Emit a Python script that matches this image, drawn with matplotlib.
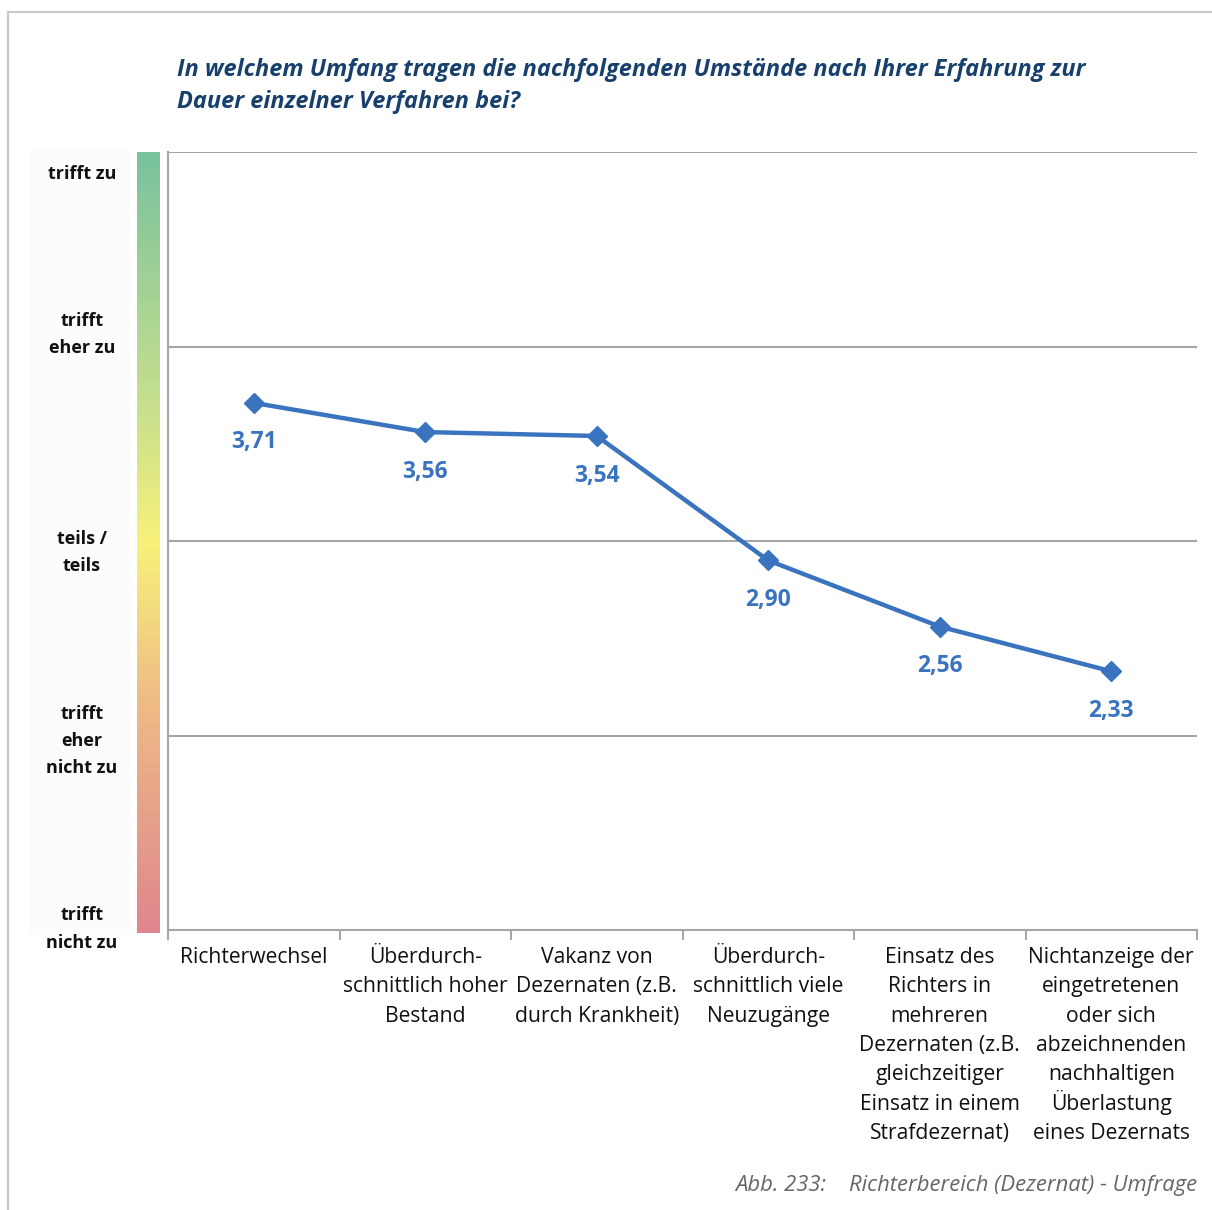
import matplotlib
matplotlib.use("Agg")
import matplotlib.pyplot as plt
import numpy as np
from matplotlib.colors import LinearSegmentedColormap
from matplotlib.lines import Line2D

categories = [
    "Richterwechsel",
    "Überdurch-\nschnittlich hoher\nBestand",
    "Vakanz von\nDezernaten (z.B.\ndurch Krankheit)",
    "Überdurch-\nschnittlich viele\nNeuzugänge",
    "Einsatz des\nRichters in\nmehreren\nDezernaten (z.B.\ngleichzeitiger\nEinsatz in einem\nStrafdezernat)",
    "Nichtanzeige der\neingetretenen\noder sich\nabzeichnenden\nnachhaltigen\nÜberlastung\neines Dezernats",
]
values = [3.71, 3.56, 3.54, 2.90, 2.56, 2.33]
scale_labels = ["trifft zu", "trifft\neher zu", "teils /\nteils", "trifft\neher\nnicht zu", "trifft\nnicht zu"]
scale_label_pos = [4.885, 4.06, 2.94, 1.97, 1.005]

title = ("In welchem Umfang tragen die nachfolgenden Umstände nach Ihrer Erfahrung zur\n"
         "Dauer einzelner Verfahren bei?")
caption = "Abb. 233:    Richterbereich (Dezernat) - Umfrage"

FONT = ["Open Sans", "DejaVu Sans"]
plt.rcParams["font.family"] = FONT

W, H = 1212, 1210
fig = plt.figure(figsize=(W / 100, H / 100), dpi=100)

def fx(px):
    return px / W

def fy(py):
    return 1 - py / H

# outer frame lines
fig.add_artist(Line2D([fx(8), fx(1212)], [fy(12), fy(12)], color="#C8C8C8", lw=1.5))
fig.add_artist(Line2D([fx(8), fx(8)], [fy(12), fy(1210)], color="#C8C8C8", lw=1.5))

ax = fig.add_axes([fx(168), fy(930), fx(1197) - fx(168), fy(152) - fy(930)])
x = np.arange(len(values))
line_color = "#3A74BF"
ax.plot(x, values, color=line_color, lw=3.2, marker="D", ms=10, mec=line_color, mfc=line_color, zorder=3)
for xi, v in zip(x, values):
    ax.annotate(f"{v:.2f}".replace(".", ","), (xi, v), xytext=(0, -28.5), textcoords="offset points",
                ha="center", va="center", color=line_color, fontsize=16.5, fontweight="bold")

ax.set_xlim(-0.5, len(values) - 0.5)
ax.set_ylim(1, 5)
ax.set_yticks([1, 2, 3, 4, 5])
ax.set_yticklabels([])
ax.tick_params(axis="y", length=0)
ax.yaxis.grid(True, color="#A6A6A6", lw=1.5)
ax.set_axisbelow(True)
for s in ["top", "right"]:
    ax.spines[s].set_visible(False)
for s in ["left", "bottom"]:
    ax.spines[s].set_color("#A6A6A6")
    ax.spines[s].set_linewidth(1.5)

# category labels: each line placed at fixed spacing below the axis
ax.set_xticks(x)
ax.set_xticklabels([])
ax.tick_params(axis="x", which="major", length=0)
ax.set_xticks(np.arange(-0.5, len(values), 1.0), minor=True)
ax.tick_params(axis="x", which="minor", length=7, width=1.5, color="#A6A6A6", direction="out")
xtrans = ax.get_xaxis_transform()
line_h = 21.2
for xi, cat in zip(x, categories):
    for i, ln in enumerate(cat.split("\n")):
        ax.annotate(ln, (xi, 0), xycoords=xtrans, xytext=(0, -23.5 - i * line_h),
                    textcoords="offset points", ha="center", va="baseline", fontsize=15.2,
                    color="#111111", annotation_clip=False)

# gradient scale bar
cax = fig.add_axes([fx(137), fy(933), fx(160) - fx(137), fy(152) - fy(933)])
cmap = LinearSegmentedColormap.from_list("scale", [
    (0.0, "#E0868E"), (0.28, "#EDB886"), (0.5, "#F8F17A"), (0.68, "#C6DF8E"), (1.0, "#79C29E")])
grad = np.linspace(0, 1, 256).reshape(-1, 1)
cax.imshow(grad, aspect="auto", cmap=cmap, origin="lower", extent=[0, 1, 0, 1])
cax.set_axis_off()

# label background
fig.add_artist(plt.Rectangle((fx(30), fy(935)), fx(130) - fx(30), fy(150) - fy(935),
                             facecolor="#FCFCFC", edgecolor="none", zorder=0))
ytrans = ax.get_yaxis_transform()
for lab, pos in zip(scale_labels, scale_label_pos):
    ax.text((82 - 168) / (1197 - 168), pos, lab, transform=ytrans, ha="center", va="center",
            fontsize=13, fontweight="bold", color="#111111", linespacing=1.65)

fig.text(fx(177), fy(86), title, ha="left", va="center", fontsize=16.9, fontweight="bold",
         fontstyle="italic", color="#17406D", linespacing=1.5)
fig.text(fx(1197), fy(1185), caption, ha="right", va="center", fontsize=15.8,
         fontstyle="italic", color="#666666")

fig.savefig("out.png", dpi=100)
